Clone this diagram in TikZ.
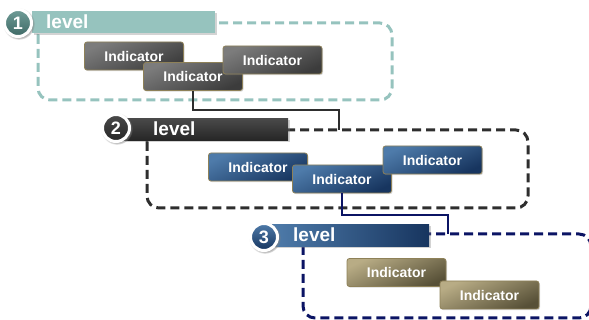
\documentclass[tikz,border=0pt]{standalone}
\usepackage{fontspec}
\setmainfont{Liberation Sans}
\usetikzlibrary{shadows}

\definecolor{tealgray}{HTML}{96C3BE}
\definecolor{tealdark}{HTML}{3F6A66}
\definecolor{tealmid}{HTML}{6F9C97}
\definecolor{darkline}{HTML}{2E2E2E}
\definecolor{navyline}{HTML}{0B1464}
\definecolor{bluelight}{HTML}{4E7BAA}
\definecolor{bluedark}{HTML}{17355F}
\definecolor{graylight}{HTML}{7C7C7C}
\definecolor{graydark}{HTML}{3C3C3C}
\definecolor{bannertop}{HTML}{4A4A4A}
\definecolor{bannerbot}{HTML}{262626}
\definecolor{khakilight}{HTML}{B8AC85}
\definecolor{khakidark}{HTML}{575037}
\definecolor{tanline}{HTML}{8E8158}

\begin{document}
\begin{tikzpicture}[x=1pt, y=-1pt,
  indicator/.style={draw=tanline, line width=0.8pt, rounded corners=2.5pt,
    minimum width=99pt, minimum height=28pt, inner sep=0pt, text=white,
    font=\fontsize{14}{14}\selectfont\bfseries,
    drop shadow={opacity=0.3, shadow xshift=1pt, shadow yshift=-1.2pt}},
  levelbox/.style={line width=3pt, dash pattern=on 9pt off 5pt, rounded corners=12pt},
  banner/.style={anchor=north west, minimum height=22pt, inner ysep=0pt, align=left,
    text=white, font=\fontsize{19}{19}\selectfont\bfseries,
    drop shadow={opacity=0.35, shadow xshift=1.5pt, shadow yshift=-2pt}},
  levelnum/.style={circle, draw=white, line width=3pt, minimum size=27pt, inner sep=0pt,
    text=white, font=\fontsize{18}{18}\selectfont\bfseries,
    circular drop shadow={opacity=0.6, shadow xshift=0.8pt, shadow yshift=-0.8pt, shadow scale=1.18}},
  link/.style={line width=1.8pt}
]
\useasboundingbox (0,0) rectangle (589,320);
\clip (0,0) rectangle (589,320);

% Level 1
\draw[levelbox, draw=tealgray] (38,23) rectangle (392,100);
\node[banner, fill=tealgray, inner xsep=14pt, text width=155pt] (ban1) at (32,11) {level};
\node[levelnum, top color=tealmid, bottom color=tealdark] (num1) at (18,23) {1};
\node[indicator, top color=graylight, bottom color=graydark, shading angle=25] (ind1a) at (134,56) {Indicator};
\node[indicator, top color=graylight, bottom color=graydark, shading angle=25] (ind1b) at (193,76.5) {Indicator};
\node[indicator, top color=graylight, bottom color=graydark, shading angle=25] (ind1c) at (272.5,60) {Indicator};

% Level 2
\draw[levelbox, draw=darkline] (147,130) rectangle (528,208);
\node[banner, top color=bannertop, bottom color=bannerbot, inner xsep=30pt, text width=105pt] (ban2) at (123,118) {level};
\node[levelnum, top color=bannertop, bottom color=bannerbot] (num2) at (116,128) {2};
\node[indicator, top color=bluelight, bottom color=bluedark, shading angle=25] (ind2a) at (258,167) {Indicator};
\node[indicator, top color=bluelight, bottom color=bluedark, shading angle=25] (ind2b) at (342,179) {Indicator};
\node[indicator, top color=bluelight, bottom color=bluedark, shading angle=25] (ind2c) at (432.5,160) {Indicator};

% Level 3
\draw[levelbox, draw=navyline] (303,234) rectangle (591,318);
\node[banner, left color=bluelight, right color=bluedark, inner xsep=21pt, text width=115pt] (ban3) at (272,224) {level};
\node[levelnum, top color=bluelight, bottom color=bluedark] (num3) at (264,237) {3};
\node[indicator, top color=khakilight, bottom color=khakidark, shading angle=25] (ind3a) at (396.5,272.5) {Indicator};
\node[indicator, top color=khakilight, bottom color=khakidark, shading angle=25] (ind3b) at (489.5,295) {Indicator};

% Links between levels
\coordinate (in2) at (339,130);
\coordinate (in3) at (448,234);
\draw[link, draw=darkline] (ind1b.south) -- ++(0,19) -| (in2);
\draw[link, draw=navyline] (ind2b.south) -- ++(0,22) -| (in3);

\end{tikzpicture}
\end{document}
